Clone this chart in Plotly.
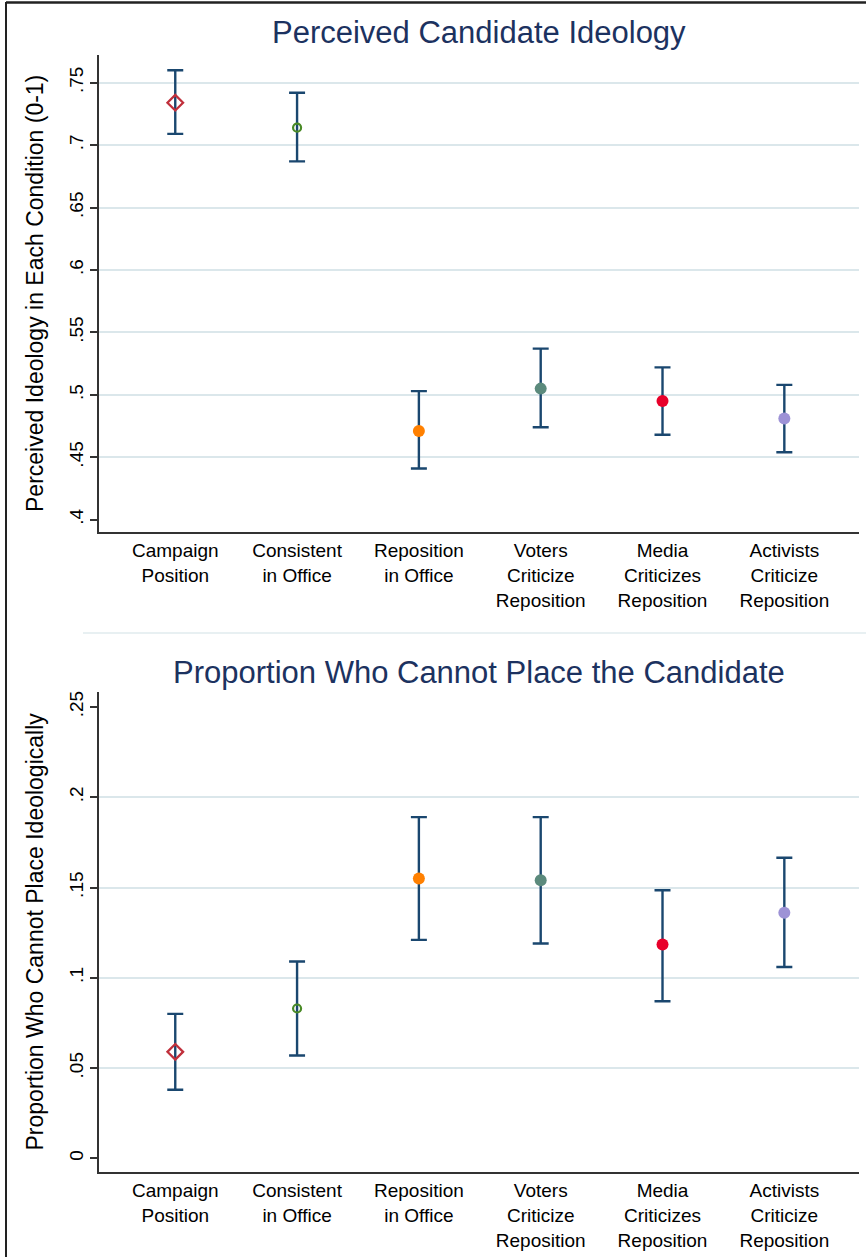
import plotly.graph_objects as go

W, H = 866, 1257

categories = ["Campaign<br>Position", "Consistent<br>in Office", "Reposition<br>in Office",
              "Voters<br>Criticize<br>Reposition", "Media<br>Criticizes<br>Reposition",
              "Activists<br>Criticize<br>Reposition"]
cat_pos = [1, 2, 3, 4, 5, 6]

ideology_mean = [0.734, 0.714, 0.471, 0.505, 0.495, 0.481]
ideology_lo = [0.709, 0.687, 0.441, 0.474, 0.468, 0.454]
ideology_hi = [0.760, 0.742, 0.503, 0.537, 0.522, 0.508]

noplace_mean = [0.059, 0.083, 0.155, 0.154, 0.1185, 0.136]
noplace_lo = [0.038, 0.057, 0.121, 0.119, 0.087, 0.106]
noplace_hi = [0.080, 0.109, 0.189, 0.189, 0.1485, 0.1665]

top_ticks = [0.4, 0.45, 0.5, 0.55, 0.6, 0.65, 0.7, 0.75]
top_ticktext = [".4", ".45", ".5", ".55", ".6", ".65", ".7", ".75"]
top_grid = [0.45, 0.5, 0.55, 0.6, 0.65, 0.7, 0.75]
bot_ticks = [0, 0.05, 0.1, 0.15, 0.2, 0.25]
bot_ticktext = ["0", ".05", ".1", ".15", ".2", ".25"]
bot_grid = [0.05, 0.1, 0.15, 0.2]

marker_symbols = ["diamond-open", "circle-open", "circle", "circle", "circle", "circle"]
marker_colors = ["#c0303c", "#4a8a26", "#ff8000", "#5b8a7c", "#e8002a", "#9d92d6"]
marker_sizes = [12, 8, 12, 12, 12, 12]
marker_lw = [2.3, 2.2, 0, 0, 0, 0]

NAVY = "#1a476f"
FONT = "Liberation Sans, Arial, sans-serif"

fig = go.Figure()


def add_panel(mean, lo, hi, xa, ya_grid, ya_main):
    # error bars on the grid-carrying axis, markers on the labelled overlay axis (same range)
    fig.add_trace(go.Scatter(
        x=cat_pos, y=mean, mode="markers", xaxis=xa, yaxis=ya_grid,
        marker=dict(size=1, color="rgba(0,0,0,0)"),
        error_y=dict(type="data", symmetric=False,
                     array=[h - m for h, m in zip(hi, mean)],
                     arrayminus=[m - l for m, l in zip(mean, lo)],
                     color=NAVY, thickness=2.4, width=8),
        showlegend=False, hoverinfo="skip"))
    fig.add_trace(go.Scatter(
        x=cat_pos, y=mean, mode="markers", xaxis=xa, yaxis=ya_main,
        marker=dict(symbol=marker_symbols, color=marker_colors, size=marker_sizes,
                    opacity=1, line=dict(width=marker_lw, color=marker_colors)),
        showlegend=False))


add_panel(ideology_mean, ideology_lo, ideology_hi, "x", "y", "y3")
add_panel(noplace_mean, noplace_lo, noplace_hi, "x2", "y2", "y4")

xdom = [99 / W, 859 / W]
top_dom = [1 - 531.7 / H, 1 - 55 / H]
bot_dom = [1 - 1171.7 / H, 1 - 692 / H]
xrange = [0.374, 6.613]
top_range = [0.3904, 0.7722]
bot_range = [-0.0074, 0.2583]

xcommon = dict(range=xrange, tickvals=cat_pos, ticktext=categories, showgrid=False,
               zeroline=False, showline=True, linecolor="#333333", linewidth=1.5,
               ticks="outside", ticklen=1, tickcolor="rgba(0,0,0,0)",
               tickfont=dict(family=FONT, size=19, color="#000000"))
gcommon = dict(showgrid=True, gridcolor="#dbe7eb", gridwidth=1.6, showticklabels=False,
               ticks="", zeroline=False, showline=False)
ycommon = dict(showgrid=False, zeroline=False, showline=True, linecolor="#333333",
               linewidth=1.5, ticks="outside", ticklen=7, tickwidth=1.5, tickcolor="#333333",
               tickangle=-90, side="left", tickfont=dict(family=FONT, size=19, color="#000000"))

fig.update_layout(
    width=W, height=H, margin=dict(l=0, r=0, t=0, b=0),
    paper_bgcolor="white", plot_bgcolor="white", showlegend=False,
    xaxis=dict(domain=xdom, anchor="y", **xcommon),
    xaxis2=dict(domain=xdom, anchor="y2", **xcommon),
    yaxis=dict(domain=top_dom, anchor="x", range=top_range, tickvals=top_grid, **gcommon),
    yaxis2=dict(domain=bot_dom, anchor="x2", range=bot_range, tickvals=bot_grid, **gcommon),
    yaxis3=dict(domain=top_dom, anchor="x", overlaying="y", range=top_range,
                tickvals=top_ticks, ticktext=top_ticktext,
                title=dict(text="Perceived Ideology in Each Condition (0-1)", standoff=16,
                           font=dict(family=FONT, size=23, color="#000000")), **ycommon),
    yaxis4=dict(domain=bot_dom, anchor="x2", overlaying="y2", range=bot_range,
                tickvals=bot_ticks, ticktext=bot_ticktext,
                title=dict(text="Proportion Who Cannot Place Ideologically", standoff=16,
                           font=dict(family=FONT, size=23, color="#000000")), **ycommon),
)

TITLE_COLOR = "#1c3260"
fig.add_annotation(text="Perceived Candidate Ideology", x=(99 + 859) / 2 / W, y=1 - 33 / H,
                   xref="paper", yref="paper", showarrow=False, xanchor="center", yanchor="middle",
                   font=dict(family=FONT, size=31, color=TITLE_COLOR))
fig.add_annotation(text="Proportion Who Cannot Place the Candidate", x=(99 + 859) / 2 / W,
                   y=1 - 672 / H, xref="paper", yref="paper", showarrow=False,
                   xanchor="center", yanchor="middle",
                   font=dict(family=FONT, size=31, color=TITLE_COLOR))

# image frame and faint separator
fig.add_shape(type="line", xref="paper", yref="paper", x0=6 / W, x1=6 / W, y0=0, y1=1 - 2 / H,
              line=dict(color="#222222", width=2))
fig.add_shape(type="line", xref="paper", yref="paper", x0=6 / W, x1=1, y0=1 - 2.5 / H, y1=1 - 2.5 / H,
              line=dict(color="#222222", width=2.5))
fig.add_shape(type="line", xref="paper", yref="paper", x0=83 / W, x1=1, y0=1 - 633 / H, y1=1 - 633 / H,
              line=dict(color="#e8f0f2", width=2))

fig.write_html("out.html", config={"displayModeBar": False},
               post_script="document.body.style.margin='0';document.body.style.padding='0';"
                           "document.body.style.overflow='hidden';")
